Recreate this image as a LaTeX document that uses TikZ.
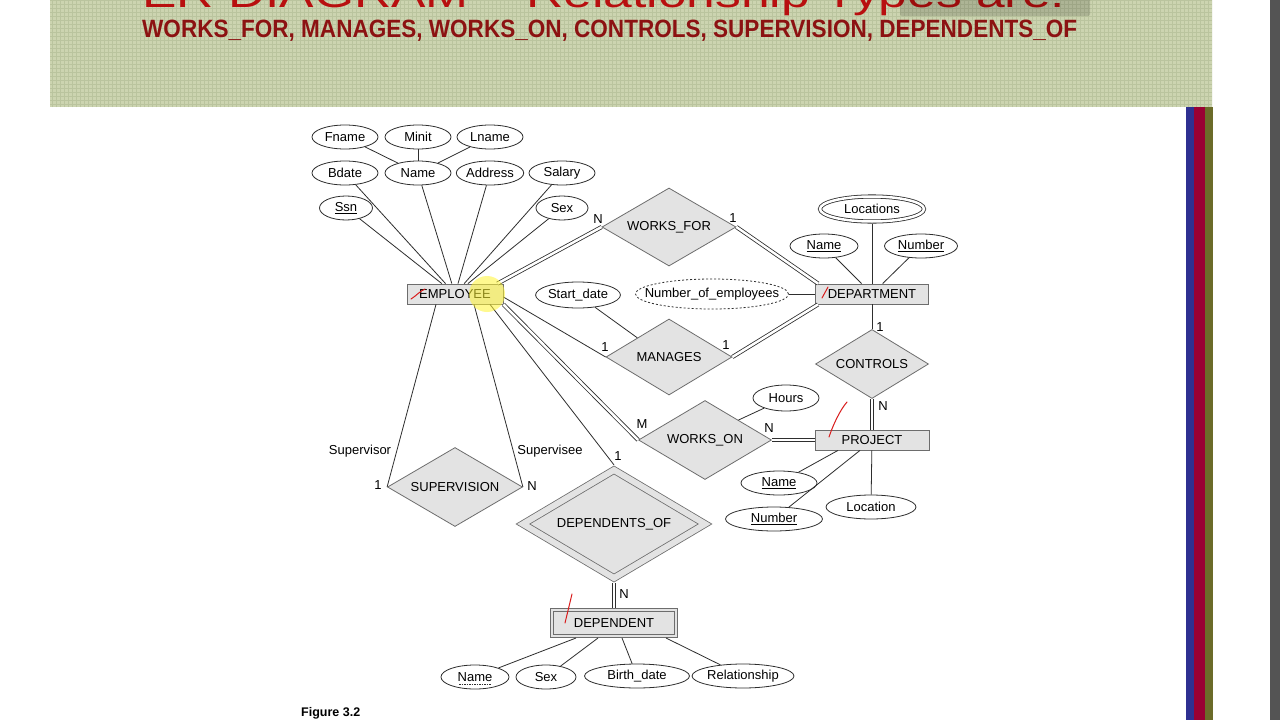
\documentclass[tikz,border=0pt]{standalone}
\usepackage{fontspec}
\setmainfont{Liberation Sans}
\usetikzlibrary{shapes.geometric, positioning, calc}
\definecolor{myred}{rgb}{0.55, 0.07, 0.07}
\definecolor{mytitle}{rgb}{0.72, 0.06, 0.06}
\definecolor{mysage}{rgb}{0.80, 0.83, 0.69}
\definecolor{mygrid}{rgb}{0.73, 0.77, 0.62}
\definecolor{myfill}{rgb}{0.89, 0.89, 0.89}
\definecolor{myline}{rgb}{0.18, 0.18, 0.18}
\definecolor{mybarblue}{rgb}{0.18, 0.19, 0.57}
\definecolor{mybarred}{rgb}{0.60, 0.00, 0.20}
\definecolor{mybarolive}{rgb}{0.42, 0.42, 0.16}
\definecolor{mydark}{rgb}{0.33, 0.33, 0.33}
\definecolor{mypen}{rgb}{0.85, 0.11, 0.11}

\begin{document}
\begin{tikzpicture}[x=1pt, y=-1pt,
  every node/.style={font=\fontsize{13}{15}\selectfont},
  entity/.style={draw=myline!70, fill=myfill, minimum width=96pt, minimum height=20pt, inner sep=0pt, line width=0.8pt},
  weakentity/.style={entity, double=myfill, double distance=2.5pt, outer sep=2pt},
  relation/.style={diamond, aspect=1.7, draw=myline!70, fill=myfill, inner sep=0pt, line width=0.8pt},
  attr/.style={ellipse, draw=myline, fill=white, inner sep=0pt, minimum width=66pt, minimum height=24pt, line width=0.8pt},
  link/.style={draw=myline, line width=0.8pt},
  total/.style={link, double, double distance=2.5pt},
  card/.style={inner sep=1pt},
  pen/.style={mypen, line width=1pt, line cap=round}]

    \useasboundingbox (0,0) rectangle (1280,720);
    \clip (0,0) rectangle (1280,720);
    \fill[white] (0,0) rectangle (1280,720);

    % slide header
    \begin{scope}
        \clip (50,0) rectangle (1212,107);
        \fill[mysage] (50,0) rectangle (1212,107);
        \draw[mygrid, line width=0.4pt, step=4pt] (50,0) grid (1212,107);
    \end{scope}
    \node[anchor=base west, inner sep=0pt, text=mytitle] (title) at (142,7)
        {\resizebox{923pt}{\height}{\fontsize{40}{40}\selectfont ER DIAGRAM – Relationship Types are:}};
    \node[anchor=base west, inner sep=0pt, text=myred] (subtitle) at (142,37)
        {\resizebox{935pt}{\height}{\fontsize{25}{25}\selectfont\bfseries WORKS\_FOR, MANAGES, WORKS\_ON, CONTROLS, SUPERVISION, DEPENDENTS\_OF}};
    \fill[black, opacity=0.15, rounded corners=2pt] (900,-3) rectangle (1090,16);

    % side bars
    \fill[mybarblue] (1186,107) rectangle (1194,720);
    \fill[mybarred] (1194,107) rectangle (1205,720);
    \fill[mybarolive] (1205,107) rectangle (1213,720);
    \fill[mydark] (1270,0) rectangle (1280,720);

    % entities
    \node[entity] (emp) at (455,294) {EMPLOYEE};
    \node[entity, minimum width=113pt] (dept) at (872,294) {DEPARTMENT};
    \node[entity, minimum width=114pt] (proj) at (872,440) {PROJECT};
    \node[weakentity, minimum width=124pt, minimum height=26pt] (dep) at (614,623) {DEPENDENT};

    % relationships
    \node[relation, minimum width=134pt, minimum height=78pt] (wf) at (669,227) {WORKS\_FOR};
    \node[relation, minimum width=126pt, minimum height=76pt] (mgr) at (669,357) {MANAGES};
    \node[relation, minimum width=113pt, minimum height=69pt] (ctrl) at (872,364) {CONTROLS};
    \node[relation, minimum width=133pt, minimum height=79pt] (wo) at (705,440) {WORKS\_ON};
    \node[relation, minimum width=135pt, minimum height=79pt] (sup) at (455,487) {SUPERVISION};
    \node[relation, double=myfill, double distance=6pt, outer sep=3.6pt, minimum width=185pt, minimum height=111pt] (depof) at (614,524) {DEPENDENTS\_OF};

    % employee attributes
    \node[attr] (fname) at (345,137) {Fname};
    \node[attr] (minit) at (418,137) {Minit};
    \node[attr] (lname) at (490,137) {Lname};
    \node[attr] (bdate) at (345,173) {Bdate};
    \node[attr] (ename) at (418,173) {Name};
    \node[attr] (addr) at (490,173) {Address};
    \node[attr] (salary) at (562,173) {Salary};
    \node[attr, minimum width=53pt] (ssn) at (346,208) {\underline{Ssn}};
    \node[attr, minimum width=52pt] (esex) at (562,208) {Sex};

    % department attributes
    \node[attr, double, double distance=2.5pt, outer sep=2pt, minimum width=104pt, minimum height=25pt] (locs) at (872,209) {Locations};
    \node[attr, minimum width=68pt] (dname) at (824,246) {\underline{Name}};
    \node[attr, minimum width=73pt] (dnum) at (921,246) {\underline{Number}};
    \node[attr, dash pattern=on 2pt off 2pt, inner xsep=-20pt, minimum width=153pt, minimum height=30pt] (nemp) at (712,294) {Number\_of\_employees};
    \node[attr, minimum width=74pt, minimum height=26pt] (sdate) at (578,295) {Start\_date};

    % project attributes
    \node[attr, minimum height=26pt] (hours) at (786,398) {Hours};
    \node[attr, minimum width=76pt] (pname) at (779,483) {\underline{Name}};
    \node[attr, minimum width=97pt] (pnum) at (774,519) {\underline{Number}};
    \node[attr, minimum width=90pt] (ploc) at (871,507) {Location};

    % dependent attributes
    \node[attr, minimum width=68pt] (depname) at (475,677) {Name};
    \draw[link, line width=0.6pt, dash pattern=on 1.5pt off 1pt] ([xshift=-16pt, yshift=-7pt]depname.center) -- ([xshift=16pt, yshift=-7pt]depname.center);
    \node[attr, minimum width=60pt] (depsex) at (546,677) {Sex};
    \node[attr, minimum width=105pt] (depbdate) at (637,676) {Birth\_date};
    \node[attr, minimum width=102pt] (deprel) at (743,676) {Relationship};

    % connectors
    \foreach \a in {fname, minit, lname} \draw[link] (\a) -- (ename);
    \foreach \a in {bdate, ename, addr, salary, ssn, esex} \draw[link] (\a) -- (emp);
    \draw[total] ([xshift=-6pt]emp.north east) -- (wf.west);
    \draw[total] (wf.east) -- ([xshift=3pt]dept.north west);
    \draw[link] ([yshift=-3pt]emp.east) -- (mgr.west);
    \draw[total] (mgr.east) -- ([xshift=3pt]dept.south west);
    \draw[link] (sdate) -- (mgr.north west);
    \draw[link] (nemp) -- (dept);
    \foreach \a in {locs, dname, dnum} \draw[link] (\a) -- (dept);
    \draw[link] (dept) -- (ctrl);
    \draw[total] (ctrl.south) -- (proj.north);
    \draw[total] (emp.south east) -- (wo.west);
    \draw[total] (wo.east) -- (proj.west);
    \draw[link] (hours) -- (wo.north east);
    \draw[link] (pname) -- ([xshift=-34pt]proj.south);
    \draw[link] (pnum) -- ([xshift=-12pt]proj.south);
    \draw[link] (proj) -- (ploc);
    \draw[link] ([xshift=-19pt]emp.south) -- (sup.west);
    \draw[link] ([xshift=19pt]emp.south) -- (sup.east);
    \draw[link] ([xshift=35pt]emp.south) -- (depof.north);
    \draw[total] (depof.south) -- (dep.north);
    \draw[link] ([xshift=-38pt]dep.south) -- (depname);
    \draw[link] ([xshift=-16pt]dep.south) -- (depsex);
    \draw[link] ([xshift=8pt]dep.south) -- (depbdate);
    \draw[link] ([xshift=52pt]dep.south) -- (deprel);

    % cardinalities and roles
    \node[card] (wf-n) at (598,219) {N};
    \node[card] (wf-1) at (733,218) {1};
    \node[card] (mgr-1a) at (605,347) {1};
    \node[card] (mgr-1b) at (726,345) {1};
    \node[card] (ctrl-1) at (880,327) {1};
    \node[card] (ctrl-n) at (883,406) {N};
    \node[card] (wo-m) at (642,424) {M};
    \node[card] (wo-n) at (769,428) {N};
    \node[card] (sup-1) at (378,485) {1};
    \node[card] (sup-n) at (532,486) {N};
    \node[card] (sup-r1) at (360,451) {Supervisor};
    \node[card] (sup-r2) at (550,451) {Supervisee};
    \node[card] (depof-1) at (618,456) {1};
    \node[card] (depof-n) at (624,594) {N};

    % lecturer's marks
    \fill[yellow!80, opacity=0.55] (487,294) circle (18pt);
    \draw[pen] (411,299) .. controls (416,296) and (420,291) .. (425,289);
    \draw[pen] (822,298) -- (828,287);
    \draw[pen] (829,437) .. controls (833,425) and (840,410) .. (847,402);
    \draw[pen] (565,623) -- (572,594);

    \node[anchor=base west, inner sep=0pt, font=\fontsize{12.5}{14}\selectfont\bfseries] (fig) at (301,716) {Figure 3.2};
\end{tikzpicture}
\end{document}
